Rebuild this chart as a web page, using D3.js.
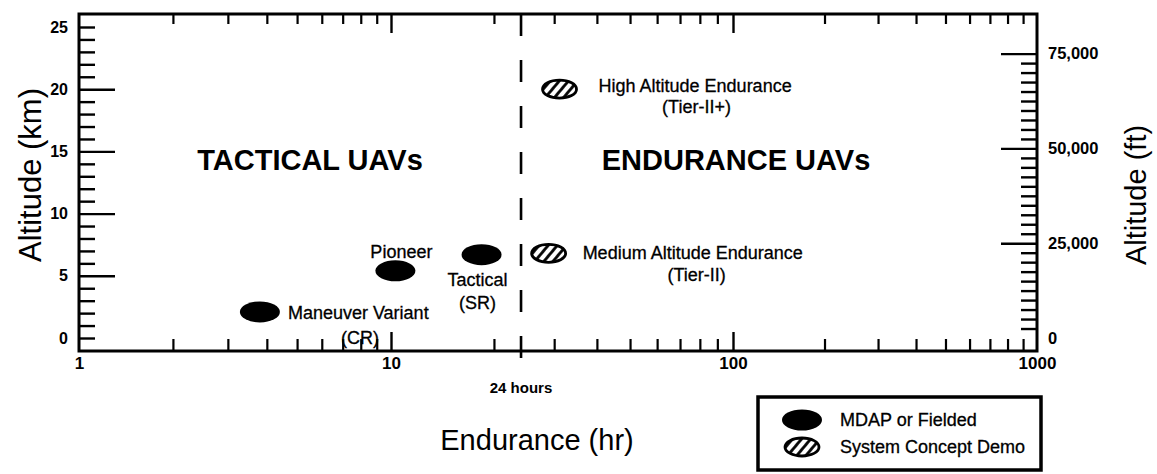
<!DOCTYPE html>
<html>
<head>
<meta charset="utf-8">
<script src="https://cdn.jsdelivr.net/npm/d3@7"></script>
<style>
  body { margin: 0; background: #fff; }
  text { font-family: "Liberation Sans", Arial, Helvetica, sans-serif; fill: #000; }
  .lbl { stroke: #000; stroke-width: 0.3px; }
</style>
</head>
<body>
<svg id="chart" width="1157" height="474"></svg>
<script>
// data
const decades = [1, 10, 100, 1000];
const majorHours = [10, 100];
const kmLabels = [0, 5, 10, 15, 20, 25];
const kmMajor = [5, 10, 15, 20];
const ftLabels = [0, 25000, 50000, 75000];
const ftMajor = [25000, 50000, 75000];
const dayHours = 24;

const uavNames = ['Maneuver Variant', 'Pioneer', 'Tactical', 'Medium Altitude Endurance', 'High Altitude Endurance'];
const uavSubNames = ['(CR)', '', '(SR)', '(Tier-II)', '(Tier-II+)'];
const enduranceHr = [3.8, 10.3, 18.4, 28.9, 31.1];
const altitudeKm = [2.1, 5.4, 6.7, 6.8, 20.0];
const uavKind = ['fielded', 'fielded', 'fielded', 'demo', 'demo'];

const legendKinds = ['fielded', 'demo'];
const legendLabels = ['MDAP or Fielded', 'System Concept Demo'];

const KM_TO_FT = 3280.84;

// layout
const frame = { left: 79, right: 1037, top: 14, bottom: 351 };

// label offsets from the mark (px)
const labelPos = {
  'Maneuver Variant':          { dx: 28,  dy: 7,   anchor: 'start',  sdx: 100, sdy: 32 },
  'Pioneer':                   { dx: 6,   dy: -13, anchor: 'middle', sdx: 0,   sdy: 0 },
  'Tactical':                  { dx: -4,  dy: 31,  anchor: 'middle', sdx: -4,  sdy: 54 },
  'Medium Altitude Endurance': { dx: 34,  dy: 6,   anchor: 'start',  sdx: 148, sdy: 28 },
  'High Altitude Endurance':   { dx: 39,  dy: 3,   anchor: 'start',  sdx: 137, sdy: 24 },
};

const svg = d3.select('#chart');

// the original axis is hand drawn, so each decade gets its own width
const x = d3.scaleLog()
  .domain(decades)
  .range([frame.left, 391, 733, frame.right]);

const yKm = d3.scaleLinear().domain([0, 25]).range([338, 27]);
const yFt = d3.scaleLinear().domain([0, 25 * KM_TO_FT]).range(yKm.range());

const minorHours = [];
decades.slice(0, -1).forEach((d) => {
  d3.range(2, 10).forEach((k) => minorHours.push(d * k));
});
const minorKm = d3.range(0, 26).filter((v) => !kmMajor.includes(v));
const minorFt = d3.range(2500, 75001, 2500).filter((v) => !ftMajor.includes(v));

// hatch for the concept demos
const defs = svg.append('defs');
defs.append('pattern')
  .attr('id', 'hatch')
  .attr('patternUnits', 'userSpaceOnUse')
  .attr('width', 7)
  .attr('height', 7)
  .attr('patternTransform', 'rotate(40)')
  .append('line')
  .attr('x1', 1.5).attr('y1', 0)
  .attr('x2', 1.5).attr('y2', 7)
  .attr('stroke', '#000')
  .attr('stroke-width', 2.8);

const styleTicks = (g, width) => {
  g.select('.domain').remove();
  g.selectAll('.tick line').attr('stroke', '#000').attr('stroke-width', width);
};

const tickFont = (g, size) => {
  g.selectAll('.tick text')
    .style('font-family', '"Liberation Sans", Arial, sans-serif')
    .style('font-size', size + 'px')
    .style('font-weight', 'bold')
    .attr('fill', '#000');
};

// bottom axis
svg.append('g')
  .attr('transform', `translate(0,${frame.bottom})`)
  .call(d3.axisBottom(x).tickValues(minorHours.filter((v) => !majorHours.includes(v))).tickSize(-12).tickFormat(''))
  .call(styleTicks, 2.2);

svg.append('g')
  .attr('transform', `translate(0,${frame.bottom})`)
  .call(d3.axisBottom(x).tickValues(decades).tickSize(-19).tickPadding(6).tickFormat(d3.format('d')))
  .call(styleTicks, 2.4)
  .call(tickFont, 17)
  .call((g) => g.selectAll('.tick').filter((d) => d === 1 || d === 1000).select('line').remove());

// top axis
svg.append('g')
  .attr('transform', `translate(0,${frame.top})`)
  .call(d3.axisTop(x).tickValues(minorHours.filter((v) => !majorHours.includes(v))).tickSize(-10).tickFormat(''))
  .call(styleTicks, 2.2);

svg.append('g')
  .attr('transform', `translate(0,${frame.top})`)
  .call(d3.axisTop(x).tickValues(majorHours).tickSize(-19).tickFormat(''))
  .call(styleTicks, 2.4);

// left axis (km)
svg.append('g')
  .attr('transform', `translate(${frame.left},0)`)
  .call(d3.axisLeft(yKm).tickValues(minorKm).tickSize(-16).tickFormat(''))
  .call(styleTicks, 2.4);

svg.append('g')
  .attr('transform', `translate(${frame.left},0)`)
  .call(d3.axisLeft(yKm).tickValues(kmMajor).tickSize(-36).tickFormat(''))
  .call(styleTicks, 2.4);

svg.append('g')
  .attr('transform', `translate(${frame.left},0)`)
  .call(d3.axisLeft(yKm).tickValues(kmLabels).tickSize(0).tickPadding(11).tickFormat(d3.format('d')))
  .call(styleTicks, 0)
  .call(tickFont, 16);

// right axis (ft)
svg.append('g')
  .attr('transform', `translate(${frame.right},0)`)
  .call(d3.axisRight(yFt).tickValues(minorFt).tickSize(-16).tickFormat(''))
  .call(styleTicks, 2.4);

svg.append('g')
  .attr('transform', `translate(${frame.right},0)`)
  .call(d3.axisRight(yFt).tickValues(ftMajor).tickSize(-36).tickFormat(''))
  .call(styleTicks, 2.4);

svg.append('g')
  .attr('transform', `translate(${frame.right},0)`)
  .call(d3.axisRight(yFt).tickValues(ftLabels).tickSize(0).tickPadding(11).tickFormat(d3.format(',')))
  .call(styleTicks, 0)
  .call(tickFont, 16.5);

// frame
svg.append('rect')
  .attr('x', frame.left)
  .attr('y', frame.top)
  .attr('width', frame.right - frame.left)
  .attr('height', frame.bottom - frame.top)
  .attr('fill', 'none')
  .attr('stroke', '#000')
  .attr('stroke-width', 3);

// 24 hour divider
svg.append('line')
  .attr('x1', x(dayHours)).attr('x2', x(dayHours))
  .attr('y1', frame.top).attr('y2', frame.bottom + 16)
  .attr('stroke', '#000')
  .attr('stroke-width', 2.6)
  .attr('stroke-dasharray', '22 24');

svg.append('text')
  .attr('x', x(dayHours))
  .attr('y', 393)
  .attr('text-anchor', 'middle')
  .style('font-size', '15px')
  .style('font-weight', 'bold')
  .text(`${dayHours} hours`);

// region titles
svg.append('text')
  .attr('x', 310).attr('y', 170)
  .attr('text-anchor', 'middle')
  .style('font-size', '29px')
  .style('font-weight', 'bold')
  .text('TACTICAL UAVs');

svg.append('text')
  .attr('x', 736).attr('y', 170)
  .attr('text-anchor', 'middle')
  .style('font-size', '29px')
  .style('font-weight', 'bold')
  .text('ENDURANCE UAVs');

// axis titles
svg.append('text')
  .attr('transform', 'translate(41,175) rotate(-90)')
  .attr('text-anchor', 'middle')
  .style('font-size', '31px')
  .text('Altitude (km)');

svg.append('text')
  .attr('transform', 'translate(1146,195) rotate(-90)')
  .attr('text-anchor', 'middle')
  .style('font-size', '29px')
  .text('Altitude (ft)');

svg.append('text')
  .attr('x', 537).attr('y', 450)
  .attr('text-anchor', 'middle')
  .style('font-size', '29px')
  .text('Endurance (hr)');

// marks
const mark = (sel, kind) => {
  sel.attr('rx', kind === 'demo' ? 17 : 20)
    .attr('ry', kind === 'demo' ? 9 : 10.5)
    .attr('fill', kind === 'demo' ? 'url(#hatch)' : '#000')
    .attr('stroke', '#000')
    .attr('stroke-width', kind === 'demo' ? 2.8 : 0);
};

const uavs = uavNames.map((name, i) => ({
  name,
  sub: uavSubNames[i],
  hr: enduranceHr[i],
  km: altitudeKm[i],
  kind: uavKind[i],
}));

const node = svg.append('g')
  .selectAll('g')
  .data(uavs)
  .join('g')
  .attr('transform', (d) => `translate(${x(d.hr)},${yKm(d.km)})`);

node.append('ellipse')
  .each(function (d) { d3.select(this).call(mark, d.kind); });

node.append('text')
  .attr('class', 'lbl')
  .attr('x', (d) => labelPos[d.name].dx)
  .attr('y', (d) => labelPos[d.name].dy)
  .attr('text-anchor', (d) => labelPos[d.name].anchor)
  .style('font-size', '18px')
  .text((d) => d.name);

node.filter((d) => d.sub)
  .append('text')
  .attr('class', 'lbl')
  .attr('x', (d) => labelPos[d.name].sdx)
  .attr('y', (d) => labelPos[d.name].sdy)
  .attr('text-anchor', 'middle')
  .style('font-size', '18px')
  .text((d) => d.sub);

// legend
const legend = svg.append('g').attr('transform', 'translate(758,397)');

legend.append('rect')
  .attr('width', 283)
  .attr('height', 73)
  .attr('fill', '#fff')
  .attr('stroke', '#000')
  .attr('stroke-width', 3.5);

const item = legend.selectAll('g.item')
  .data(legendKinds)
  .join('g')
  .attr('class', 'item')
  .attr('transform', (d, i) => `translate(44,${23 + i * 27})`);

item.append('ellipse')
  .each(function (d) { d3.select(this).call(mark, d); });

item.append('text')
  .attr('class', 'lbl')
  .attr('x', 38)
  .attr('y', 6)
  .style('font-size', '18px')
  .text((d, i) => legendLabels[i]);
</script>
</body>
</html>
